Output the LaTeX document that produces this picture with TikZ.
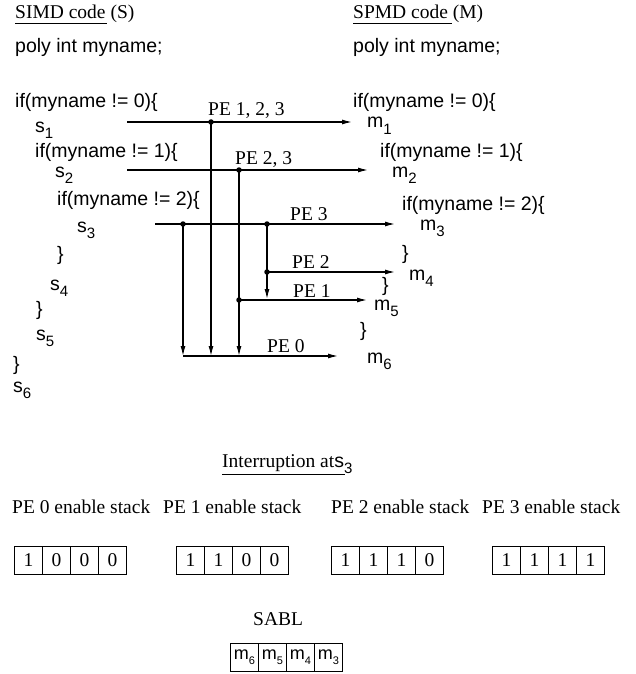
\documentclass[tikz,border=0pt]{standalone}
\usepackage{fontspec}
\setmainfont{Liberation Serif}
\setsansfont{Liberation Sans}
\usetikzlibrary{arrows.meta}
\newcommand{\subv}[2]{#1\raisebox{-6pt}{\fontsize{15}{15}\selectfont #2}}
\newcommand{\sablm}[1]{m\raisebox{-5pt}{\fontsize{11}{11}\selectfont #1}}
\begin{document}
\begin{tikzpicture}[x=1pt,y=-1pt,
  code/.style={anchor=base west, inner sep=0pt, font=\fontsize{19.5}{20}\sffamily},
  lbl/.style={anchor=base west, inner sep=0pt, font=\fontsize{19.5}{20}\rmfamily},
  flow/.style={line width=1.2pt},
  arr/.style={flow, -{Latex[length=10pt,width=5pt]}},
  jdot/.style={circle, fill, inner sep=0pt, minimum size=5.5pt},
  uline/.style={line width=1pt},
  cell/.style={draw, line width=1pt, minimum width=28pt, minimum height=28pt, inner sep=0pt, anchor=north west, font=\fontsize{19.5}{20}\rmfamily},
  scell/.style={draw, line width=1pt, minimum width=28pt, minimum height=28pt, inner sep=0pt, anchor=north west, font=\fontsize{18}{18}\sffamily}]
\useasboundingbox (0,0) rectangle (636,674);

% headers
\node[lbl] (simd) at (15,19) {SIMD code (S)};
\node[lbl] (spmd) at (353,19) {SPMD code (M)};
\draw[uline] (15,24) -- (107,24);
\draw[uline] (353,24) -- (452,24);

% left code (SIMD)
\node[code] (lpoly) at (15,53) {poly int myname;};
\node[code] (lif0) at (15,108) {if(myname != 0)\{};
\node[code] (ls1) at (35,132) {\subv{s}{1}};
\node[code] (lif1) at (35,157) {if(myname != 1)\{};
\node[code] (ls2) at (55,177) {\subv{s}{2}};
\node[code] (lif2) at (57,205) {if(myname != 2)\{};
\node[code] (ls3) at (77,232) {\subv{s}{3}};
\node[code] (lb1) at (57,260) {\}};
\node[code] (ls4) at (50,290) {\subv{s}{4}};
\node[code] (lb2) at (36,315) {\}};
\node[code] (ls5) at (36,340) {\subv{s}{5}};
\node[code] (lb3) at (13,370) {\}};
\node[code] (ls6) at (13,392) {\subv{s}{6}};

% right code (SPMD)
\node[code] (rpoly) at (353,53) {poly int myname;};
\node[code] (rif0) at (353,108) {if(myname != 0)\{};
\node[code] (rm1) at (367,128) {\subv{m}{1}};
\node[code] (rif1) at (380,157) {if(myname != 1)\{};
\node[code] (rm2) at (392,177) {\subv{m}{2}};
\node[code] (rif2) at (402,210) {if(myname != 2)\{};
\node[code] (rm3) at (420,230) {\subv{m}{3}};
\node[code] (rb1) at (402,259) {\}};
\node[code] (rm4) at (409,280) {\subv{m}{4}};
\node[code] (rb2) at (382,291) {\}};
\node[code] (rm5) at (374,310) {\subv{m}{5}};
\node[code] (rb3) at (360,336) {\}};
\node[code] (rm6) at (367,363) {\subv{m}{6}};

% junctions and ends
\coordinate (a1) at (127,122); \coordinate (j1) at (211,122); \coordinate (e1) at (352,122);
\coordinate (a2) at (127,170); \coordinate (j2) at (239,170); \coordinate (e2) at (368,170);
\coordinate (a3) at (155,224); \coordinate (j3a) at (183,224); \coordinate (j3b) at (267,224); \coordinate (e3) at (395,224);
\coordinate (j4) at (267,272); \coordinate (e4) at (395,272);
\coordinate (j5) at (239,300); \coordinate (e5) at (367,300);
\coordinate (b3b) at (267,299);
\coordinate (b3a) at (183,356); \coordinate (b1) at (211,356); \coordinate (b2) at (239,356); \coordinate (e6) at (338,356);

\draw[arr] (a1) -- (e1);
\draw[arr] (a2) -- (e2);
\draw[arr] (a3) -- (e3);
\draw[arr] (j4) -- (e4);
\draw[arr] (j5) -- (e5);
\draw[arr] (j3b) -- (b3b);
\draw[arr] (j3a) -- (b3a);
\draw[arr] (j1) -- (b1);
\draw[arr] (j2) -- (b2);
\draw[arr] (b3a) -- (e6);
\foreach \p in {j1,j2,j3a,j3b,j4,j5} \node[jdot] at (\p) {};

% PE labels
\node[lbl] (pe123) at (208,116) {PE 1, 2, 3};
\node[lbl] (pe23) at (235,164) {PE 2, 3};
\node[lbl] (pe3) at (290,220) {PE 3};
\node[lbl] (pe2) at (292,268) {PE 2};
\node[lbl] (pe1) at (293,297) {PE 1};
\node[lbl] (pe0) at (267,352) {PE 0};

% interruption
\node[lbl] (intr) at (222,467) {Interruption at{\sffamily\subv{s}{3}}};
\draw[uline] (222,474) -- (345,474);

% enable stacks
\node[lbl] (st0) at (12,513) {PE 0 enable stack};
\node[lbl] (st1) at (163,513) {PE 1 enable stack};
\node[lbl] (st2) at (331,513) {PE 2 enable stack};
\node[lbl] (st3) at (482,513) {PE 3 enable stack};

\foreach \bx/\nm/\va/\vb/\vc/\vd in {14/p0/1/0/0/0, 176/p1/1/1/0/0, 331/p2/1/1/1/0, 492/p3/1/1/1/1} {
  \node[cell] (\nm a) at (\bx,546) {\va};
  \node[cell] (\nm b) at (\bx+28,546) {\vb};
  \node[cell] (\nm c) at (\bx+56,546) {\vc};
  \node[cell] (\nm d) at (\bx+84,546) {\vd};
}

% SABL
\node[lbl] (sabl) at (253,625) {SABL};
\node[scell] (q1) at (230,643) {\sablm{6}};
\node[scell] (q2) at (258,643) {\sablm{5}};
\node[scell] (q3) at (286,643) {\sablm{4}};
\node[scell] (q4) at (314,643) {\sablm{3}};
\end{tikzpicture}
\end{document}
